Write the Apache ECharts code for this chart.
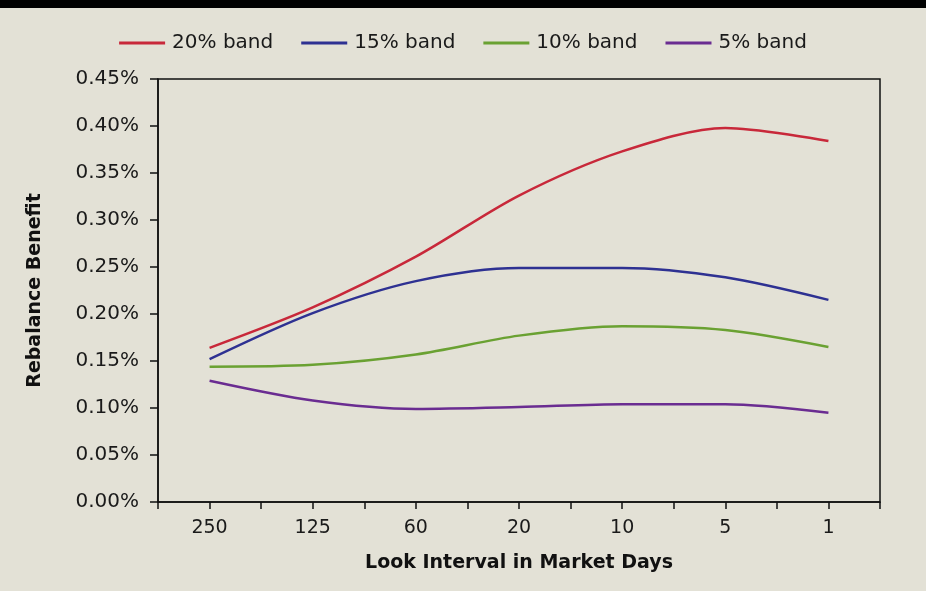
<!DOCTYPE html>
<html>
<head>
<meta charset="utf-8">
<script src="https://cdn.jsdelivr.net/npm/echarts@6/dist/echarts.min.js"></script>
<style>
html,body{margin:0;padding:0;background:#e3e1d6;}
#c{width:926px;height:591px;}
</style>
</head>
<body>
<div id="c"></div>
<script>
const categories = ['250','125','60','20','10','5','1'];
const band20 = [0.164, 0.207, 0.261, 0.326, 0.373, 0.398, 0.384];
const band15 = [0.152, 0.201, 0.235, 0.249, 0.249, 0.239, 0.215];
const band10 = [0.144, 0.146, 0.157, 0.177, 0.187, 0.183, 0.165];
const band5  = [0.129, 0.108, 0.099, 0.101, 0.104, 0.104, 0.095];
const seriesNames = ['20% band','15% band','10% band','5% band'];
const colors = ['#c8283a','#2e3192','#6aa132','#6a2c91'];
const yTicks = {min:0, max:0.45, interval:0.05};

const font = '"DejaVu Sans", sans-serif';
const chart = echarts.init(document.getElementById('c'));
const dataSets = [band20, band15, band10, band5];
chart.setOption({
  backgroundColor:'#e3e1d6',
  animation:false,
  graphic:[{type:'rect', shape:{x:0,y:0,width:926,height:8}, style:{fill:'#000'}}],
  legend:{
    top:28, left:'center', itemWidth:46, itemHeight:3, itemGap:28, icon:'rect',
    textStyle:{fontFamily:font, fontSize:20, color:'#1a1a1a', padding:[0,0,0,2]},
    data:seriesNames
  },
  grid:{left:158, right:46, top:79, bottom:89, show:true, borderColor:'#111', borderWidth:1.5, backgroundColor:'transparent'},
  xAxis:[{
    type:'category', data:categories, boundaryGap:true,
    axisLine:{lineStyle:{color:'#111', width:1.5}},
    axisTick:{show:true, length:7, lineStyle:{color:'#111', width:1.5}},
    axisLabel:{fontFamily:font, fontSize:19, color:'#1a1a1a', margin:17},
    name:'Look Interval in Market Days', nameLocation:'middle', nameGap:52,
    nameTextStyle:{fontFamily:font, fontSize:19, fontWeight:'bold', color:'#111'}
  },{
    type:'category', data:categories, boundaryGap:true, position:'bottom',
    axisLine:{show:false},
    axisTick:{show:true, alignWithLabel:true, length:7, lineStyle:{color:'#111', width:1.5}},
    axisLabel:{show:false}
  }],
  yAxis:{
    type:'value', min:yTicks.min, max:yTicks.max, interval:yTicks.interval,
    splitLine:{show:false},
    axisLine:{show:true, lineStyle:{color:'#111', width:1.5}},
    axisTick:{show:true, length:8, lineStyle:{color:'#111', width:1.5}},
    axisLabel:{fontFamily:font, fontSize:20, color:'#1a1a1a', margin:19, formatter:v=>v.toFixed(2)+'%'},
    name:'Rebalance Benefit', nameLocation:'middle', nameGap:113, nameRotate:90,
    nameTextStyle:{fontFamily:font, fontSize:19, fontWeight:'bold', color:'#111'}
  },
  series: dataSets.map((d,i)=>({
    name:seriesNames[i], type:'line', data:d, smooth:0.3, symbol:'none',
    itemStyle:{color:colors[i]}, lineStyle:{color:colors[i], width:2.5}
  }))
});
</script>
</body>
</html>
